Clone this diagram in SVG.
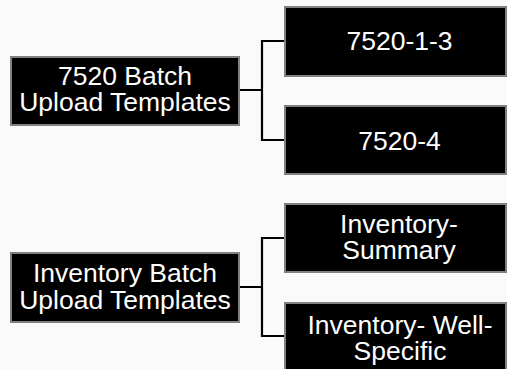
<svg xmlns="http://www.w3.org/2000/svg" width="507" height="369" viewBox="0 0 507 369">
<style>
.box{fill:#000;stroke:#808080;stroke-width:2}
.t{fill:#fff;font-family:"Liberation Sans",Arial,sans-serif;font-size:26.5px;text-anchor:middle}
.c{fill:none;stroke:#000;stroke-width:2.2}
</style>
<rect width="507" height="369" fill="#fafafa"/>
<g id="connectors">
<path class="c" d="M240,90 H262 M284,41 H262 V140 H284"/>
<path class="c" d="M240,287 H262 M284,238 H262 V336 H284"/>
</g>
<g id="n7520">
<rect class="box" x="11" y="57" width="228" height="68"/>
<text class="t" x="125" y="84.5">7520 Batch</text>
<text class="t" x="125" y="111">Upload Templates</text>
</g>
<g id="n7520-1-3">
<rect class="box" x="285" y="7" width="221" height="69"/>
<text class="t" x="399.5" y="49.5">7520-1-3</text>
</g>
<g id="n7520-4">
<rect class="box" x="285" y="106" width="221" height="68"/>
<text class="t" x="399.5" y="149.5">7520-4</text>
</g>
<g id="inventory">
<rect class="box" x="11" y="253" width="228" height="69"/>
<text class="t" x="125" y="282">Inventory Batch</text>
<text class="t" x="125" y="309">Upload Templates</text>
</g>
<g id="inv-summary">
<rect class="box" x="285" y="204" width="221" height="68"/>
<text class="t" x="399" y="232.5">Inventory-</text>
<text class="t" x="399" y="258.5">Summary</text>
</g>
<g id="inv-well">
<rect class="box" x="285" y="303" width="221" height="80"/>
<text class="t" x="400" y="333.5">Inventory- Well-</text>
<text class="t" x="400" y="359.5">Specific</text>
</g>
</svg>
